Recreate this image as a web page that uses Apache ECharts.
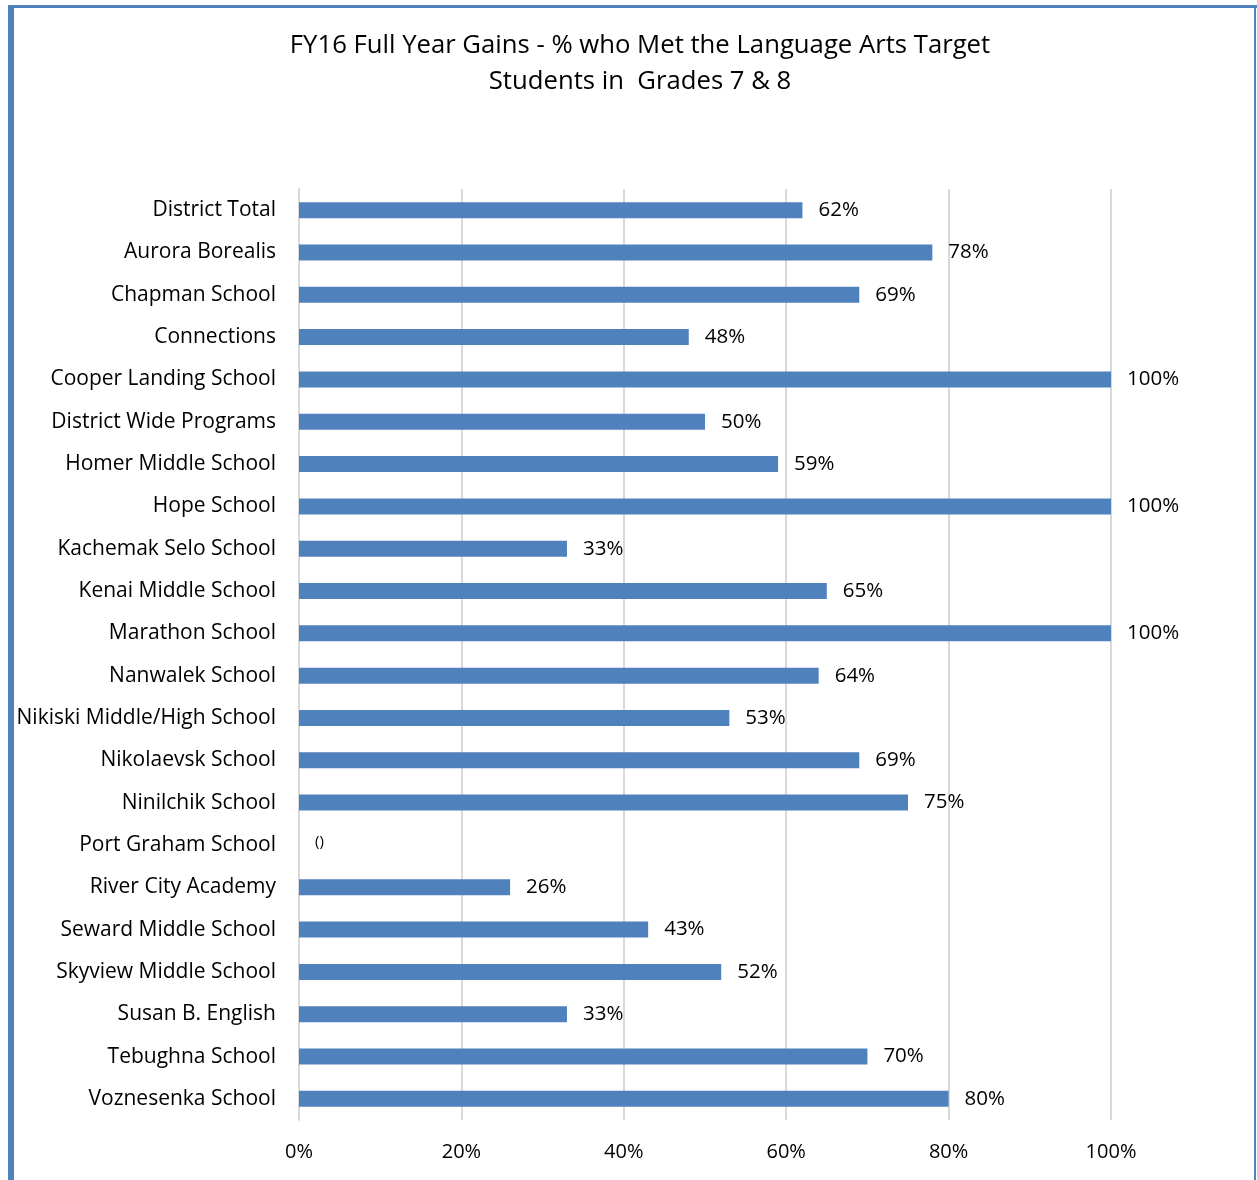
<!DOCTYPE html>
<html>
<head>
<meta charset="utf-8">
<script src="https://cdn.jsdelivr.net/npm/echarts@6/dist/echarts.min.js"></script>
<style>
html,body{margin:0;padding:0;background:#fff;}
#chart{width:1257px;height:1180px;}
</style>
</head>
<body>
<div id="chart"></div>
<script>
const titleLines = ['FY16 Full Year Gains - % who Met the Language Arts Target', 'Students in  Grades 7 & 8'];
const categories = ['District Total','Aurora Borealis','Chapman School','Connections','Cooper Landing School','District Wide Programs','Homer Middle School','Hope School','Kachemak Selo School','Kenai Middle School','Marathon School','Nanwalek School','Nikiski Middle/High School','Nikolaevsk School','Ninilchik School','Port Graham School','River City Academy','Seward Middle School','Skyview Middle School','Susan B. English','Tebughna School','Voznesenka School'];
const values = [62,78,69,48,100,50,59,100,33,65,100,64,53,69,75,0,26,43,52,33,70,80];
const xTicks = [0,20,40,60,80,100];

const font = '"Open Sans", sans-serif';
const chart = echarts.init(document.getElementById('chart'), null, {renderer:'canvas'});
chart.setOption({
  animation:false,
  backgroundColor:'#fff',
  title:{
    text: titleLines.join('\n'),
    left: 635, top: 23, textAlign:'center',
    textStyle:{fontFamily:font, fontSize:25.7, fontWeight:'normal', color:'#000', lineHeight:36}
  },
  graphic:[
    {type:'rect', shape:{x:8,y:5,width:1249,height:3}, style:{fill:'#4F81BD'}},
    {type:'rect', shape:{x:8,y:5,width:6,height:1175}, style:{fill:'#4F81BD'}},
    {type:'rect', shape:{x:1254,y:5,width:2,height:1175}, style:{fill:'#4F81BD'}}
  ],
  grid:{left:299, right:146, top:189, bottom:60, containLabel:false},
  xAxis:{
    type:'value', min:0, max:100, interval:20,
    axisLine:{show:false}, axisTick:{show:false},
    axisLabel:{margin:22, fontFamily:font, fontSize:20, color:'#000', formatter: v => xTicks.includes(v) ? v + '%' : ''},
    splitLine:{show:true, lineStyle:{color:'#d9d9d9', width:2}}
  },
  yAxis:{
    type:'category', data:categories, inverse:true,
    axisLine:{show:true, lineStyle:{color:'#d9d9d9', width:2}},
    axisTick:{show:false},
    axisLabel:{margin:23, fontFamily:font, fontSize:21, color:'#000'}
  },
  series:[{
    type:'bar', data:values, barWidth:16,
    itemStyle:{color:'#4F81BD'},
    label:{show:true, position:'right', distance:16, fontFamily:font, fontSize:20.5, color:'#000',
      formatter: p => p.value === 0 ? '{s|()}' : p.value + '%',
      rich:{s:{fontFamily:font, fontSize:15, color:'#000', padding:[0,0,6,0]}}}
  }]
});
</script>
</body>
</html>
